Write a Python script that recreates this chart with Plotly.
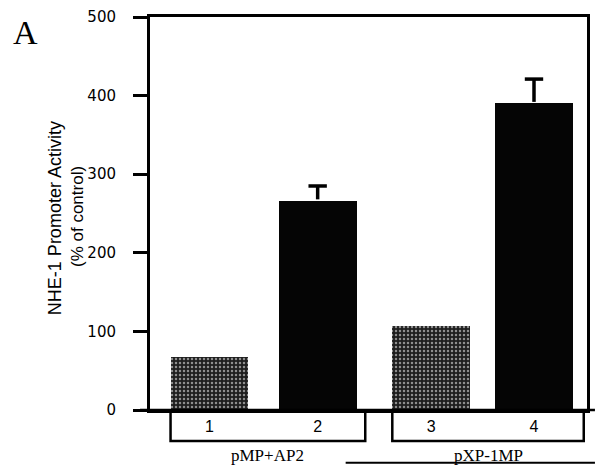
import plotly.graph_objects as go

lanes = ["1", "2", "3", "4"]
values = [67, 266, 107, 390]
errors = [0, 19, 0, 31]
groups = ["pMP+AP2", "pXP-1MP"]
y_ticks = [0, 100, 200, 300, 400, 500]

pos = [0, 1, 2.05, 3.0]
bar_w = 0.72
cap_half = 0.085
colors = ["#1e1e1e", "#050505", "#1e1e1e", "#050505"]

fig = go.Figure()
fig.add_trace(go.Bar(
    x=pos, y=values, width=bar_w,
    marker=dict(color=colors, line=dict(width=0),
                pattern=dict(shape=[".", "", ".", ""], fgcolor="#a8a8a8",
                             bgcolor="#111", size=4, solidity=0.3)),
))

# upward "T" error bars built from the data
ex, ey = [], []
for p, v, e in zip(pos, values, errors):
    if e > 0:
        ex += [p, p, None, p - cap_half, p + cap_half, None]
        ey += [v + 2, v + e, None, v + e, v + e, None]
fig.add_trace(go.Scatter(x=ex, y=ey, mode="lines",
                         line=dict(color="black", width=3.5), hoverinfo="skip"))

black = "black"
fig.update_layout(
    width=598, height=472,
    margin=dict(l=150, r=8, t=16, b=62),
    paper_bgcolor="white", plot_bgcolor="white",
    showlegend=False, bargap=0,
    xaxis=dict(range=[-0.55, 3.49], tickvals=pos, ticktext=lanes,
               showgrid=False, zeroline=False, showline=True, mirror=True,
               linecolor=black, linewidth=2.5, ticks="",
               tickfont=dict(family="Liberation Sans", size=16, color=black),
               ticklabelstandoff=0),
    yaxis=dict(range=[0, 500], tickvals=y_ticks, ticks="outside", ticklen=14,
               tickwidth=3, tickcolor=black, showgrid=False, zeroline=False,
               showline=True, mirror=True, linecolor=black, linewidth=3,
               ticklabelstandoff=14,
               tickfont=dict(family="DejaVu Sans", size=15, color=black)),
)

def px(xp):
    return (xp - 150) / 440.0
def py(yp):
    return (410 - yp) / 394.0

def label(text, xp, yp, size, family, angle=0):
    fig.add_annotation(text=text, x=px(xp), y=py(yp), xref="paper", yref="paper",
                       xanchor="center", yanchor="middle", showarrow=False,
                       textangle=angle, font=dict(family=family, size=size, color=black))

# y-axis title (two lines, rotated)
label("NHE-1 Promoter Activity", 55, 218, 18, "Liberation Sans", -90)
label("(% of control)", 77, 216, 17, "Liberation Sans", -90)

# panel letter
label("A", 25, 32, 34, "Liberation Serif")

# baseline extension
fig.add_shape(type="line", xref="paper", yref="paper", x0=px(140), x1=px(598),
              y0=0, y1=0, line=dict(color=black, width=2.5))

# group brackets
brackets = [(pos[0] - bar_w / 2, pos[1] + bar_w / 2 + 0.08),
            (pos[2] - bar_w / 2, pos[3] + bar_w / 2 + 0.1)]
for (x0, x1), g in zip(brackets, groups):
    fig.add_shape(type="path", xref="x", yref="paper",
                  path=f"M {x0} {py(413)} L {x0} {py(441)} L {x1} {py(441)} L {x1} {py(413)}",
                  line=dict(color=black, width=2.5))
    fig.add_annotation(text=g, x=(x0 + x1) / 2, y=py(456), xref="x", yref="paper",
                       xanchor="center", yanchor="middle", showarrow=False,
                       font=dict(family="Liberation Serif", size=17, color=black))

# stray line from next panel at bottom
fig.add_shape(type="line", xref="paper", yref="paper", x0=px(347), x1=px(598),
              y0=py(463), y1=py(463), line=dict(color=black, width=2))

fig.write_html("out.html")
